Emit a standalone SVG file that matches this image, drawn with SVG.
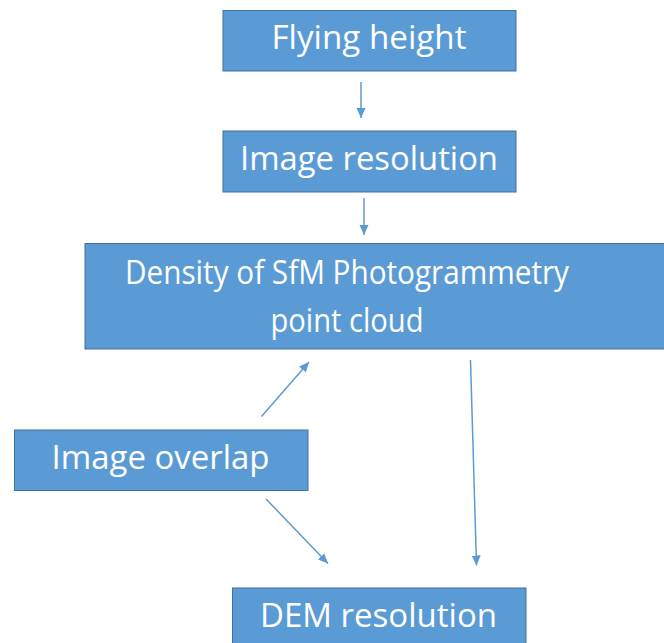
<svg xmlns="http://www.w3.org/2000/svg" width="664" height="643" viewBox="0 0 664 643">
  <defs>
    <style>
      .box { fill: #5B9BD5; stroke: #41719C; stroke-width: 1; }
      .label { fill: #FFFFFF; font-family: "Open Sans", "Noto Sans", "Liberation Sans", sans-serif; font-size: 33px; text-anchor: middle; }
      .link { stroke: #5B9BD5; stroke-width: 1.5; fill: none; marker-end: url(#head); }
    </style>
    <marker id="head" markerUnits="userSpaceOnUse" markerWidth="11" markerHeight="10" refX="10" refY="4.5" orient="auto">
      <path d="M0,0 L10,4.5 L0,9 z" fill="#5B9BD5"/>
    </marker>
  </defs>
  <rect width="664" height="643" fill="#FFFFFF"/>

  <g id="connectors">
    <line class="link" x1="361" y1="82" x2="361" y2="118"/>
    <line class="link" x1="364" y1="198" x2="364" y2="235"/>
    <line class="link" x1="261.5" y1="416.5" x2="309" y2="362"/>
    <line class="link" x1="266" y1="499" x2="328" y2="563.5"/>
    <line class="link" x1="470.5" y1="360" x2="476.5" y2="565.5"/>
  </g>

  <g id="flying-height">
    <rect class="box" x="223" y="10.5" width="293" height="60.5"/>
    <text class="label" x="369" y="49" textLength="195" lengthAdjust="spacingAndGlyphs">Flying height</text>
  </g>

  <g id="image-resolution">
    <rect class="box" x="223" y="131" width="293" height="61"/>
    <text class="label" x="369" y="170" textLength="258" lengthAdjust="spacingAndGlyphs">Image resolution</text>
  </g>

  <g id="point-cloud-density">
    <rect class="box" x="85" y="243.5" width="590" height="105.5"/>
    <text class="label" x="347" y="284" textLength="444" lengthAdjust="spacingAndGlyphs">Density of SfM Photogrammetry</text>
    <text class="label" x="347" y="332" textLength="153" lengthAdjust="spacingAndGlyphs">point cloud</text>
  </g>

  <g id="image-overlap">
    <rect class="box" x="14.5" y="430" width="293.5" height="60.5"/>
    <text class="label" x="160.5" y="469" textLength="218" lengthAdjust="spacingAndGlyphs">Image overlap</text>
  </g>

  <g id="dem-resolution">
    <rect class="box" x="232.5" y="588" width="293.5" height="70"/>
    <text class="label" x="378.5" y="627" textLength="237" lengthAdjust="spacingAndGlyphs">DEM resolution</text>
  </g>
</svg>
